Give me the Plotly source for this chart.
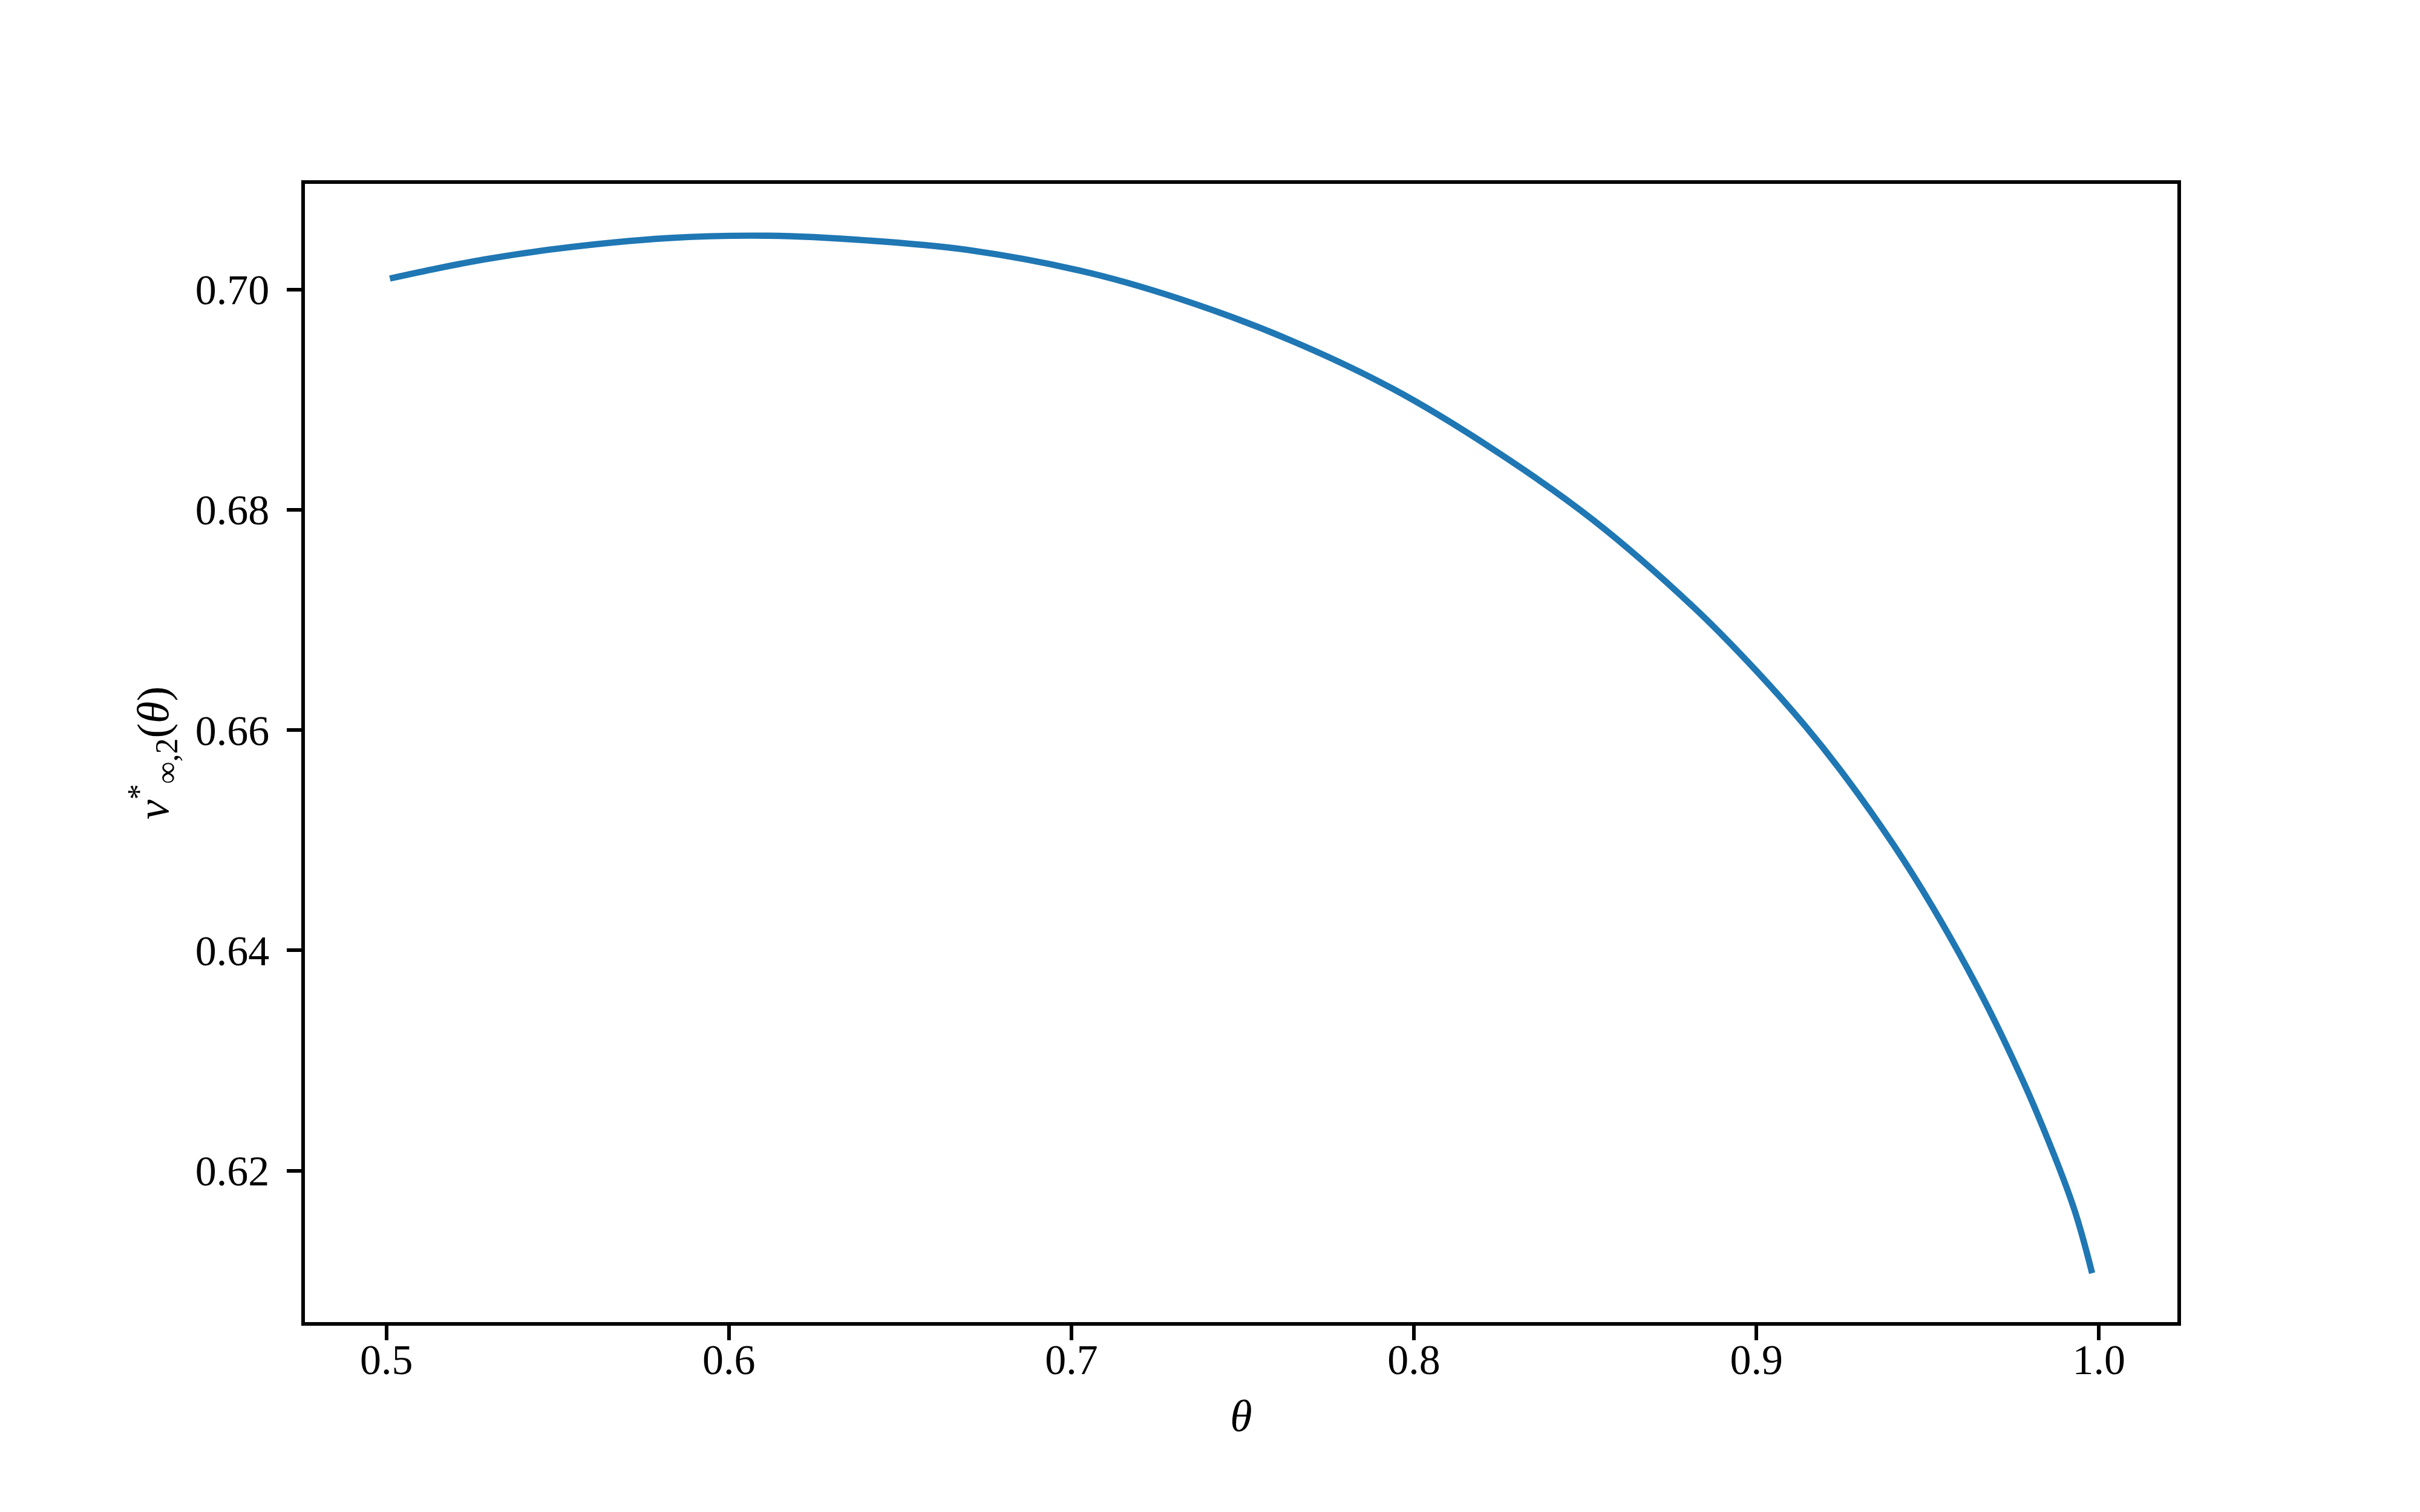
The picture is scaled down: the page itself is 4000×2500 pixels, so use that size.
import plotly.graph_objects as go

# Data
theta = [0.501, 0.515, 0.530, 0.550, 0.582, 0.6115, 0.6407, 0.6702, 0.7055, 0.7349,
         0.7642, 0.7937, 0.8231, 0.8524, 0.8818, 0.8995, 0.9141, 0.9259, 0.9400,
         0.9515, 0.9642, 0.9730, 0.9818, 0.9926, 0.998]
v_star = [0.70099, 0.70192, 0.70279, 0.70370, 0.70465, 0.70487, 0.70444, 0.70356,
          0.70148, 0.69880, 0.69535, 0.69100, 0.68549, 0.67905, 0.67111, 0.66553,
          0.66042, 0.65579, 0.64959, 0.64390, 0.63685, 0.63138, 0.62531, 0.61667,
          0.6107]

x_ticks = [0.5, 0.6, 0.7, 0.8, 0.9, 1.0]
x_ticklabels = ["0.5", "0.6", "0.7", "0.8", "0.9", "1.0"]
y_ticks = [0.62, 0.64, 0.66, 0.68, 0.70]
y_ticklabels = ["0.62", "0.64", "0.66", "0.68", "0.70"]

FONT = "Liberation Serif, DejaVu Serif, serif"

fig = go.Figure()
fig.add_trace(go.Scatter(
    x=theta, y=v_star, mode="lines",
    line=dict(color="#1f77b4", width=10.4, shape="spline", smoothing=1.0),
    showlegend=False,
))

axis_common = dict(
    showgrid=False, zeroline=False,
    showline=True, linecolor="black", linewidth=5.6, mirror=True,
    ticks="outside", ticklen=24, tickwidth=5.6, tickcolor="black",
    tickfont=dict(family=FONT, size=70, color="black"),
)

fig.update_layout(
    width=4000, height=2500,
    paper_bgcolor="white", plot_bgcolor="white",
    margin=dict(l=496, r=409, t=296, b=322),
    font=dict(family=FONT, color="black", size=70),
    xaxis=dict(
        range=[0.4762, 1.0229], tickvals=x_ticks, ticktext=x_ticklabels,
        title=dict(text="<i>θ</i>", font=dict(family=FONT, size=74), standoff=30),
        ticklabelstandoff=-28,
        **axis_common,
    ),
    yaxis=dict(
        range=[0.60626, 0.70958], tickvals=y_ticks, ticktext=y_ticklabels,
        title=dict(text="<i>v</i><sup>*</sup><sub>∞,2</sub>(<i>θ</i>)",
                   font=dict(family=FONT, size=74), standoff=22),
        ticklabelstandoff=15,
        **axis_common,
    ),
)

fig.write_html("out.html")
